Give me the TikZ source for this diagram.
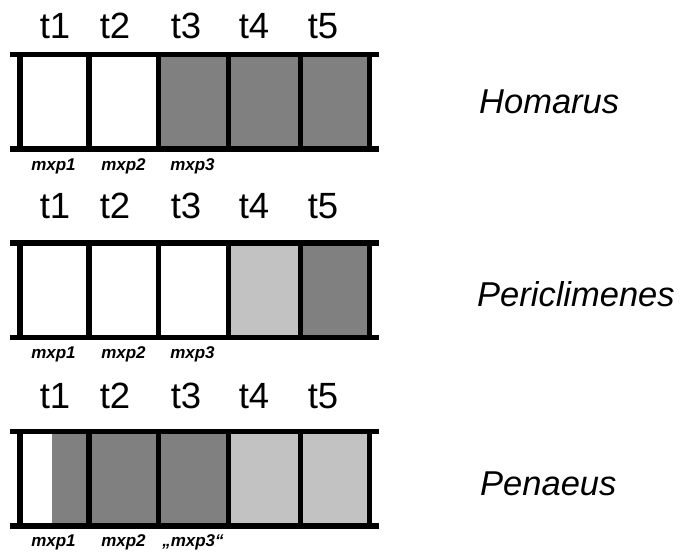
\documentclass[tikz,border=0pt]{standalone}
\usepackage{fontspec}
\setmainfont{Liberation Sans}
\definecolor{dk}{gray}{0.5}
\definecolor{lt}{gray}{0.76}
\begin{document}
\begin{tikzpicture}[x=1pt,y=-1pt,
  bar/.style={line width=5.8pt},
  tlab/.style={anchor=base,font=\fontsize{36.5}{40}\selectfont,inner sep=0pt},
  mlab/.style={anchor=base,font=\fontsize{17}{19}\bfseries\itshape\selectfont,inner sep=0pt},
  sp/.style={anchor=base west,font=\fontsize{34.5}{40}\itshape\selectfont,inner sep=0pt}]
\useasboundingbox[fill=white] (0,0) rectangle (681,555);
% fills
\fill[dk] (158.5,54.5) rectangle (369.5,149);
\fill[lt] (228.5,243) rectangle (300.5,337.5);
\fill[dk] (300.5,243) rectangle (369.5,337.5);
\fill[dk] (52,431.5) rectangle (228.5,526);
\fill[lt] (228.5,431.5) rectangle (369.5,526);
% frames
\foreach \T/\B in {54.5/149, 243/337.5, 431.5/526}{
  \foreach \x in {20,89,158.5,228.5,300.5,369.5}
    \draw[bar] (\x,\T) -- (\x,\B);
  \draw[bar] (10,\T) -- (379,\T);
  \draw[bar] (10,\B) -- (379,\B);
}
% t labels
\foreach \r/\y in {a/38, b/218, c/408}{
  \foreach \i/\x in {1/55, 2/115, 3/186, 4/254, 5/323}
    \node[tlab] (t\r\i) at (\x,\y) {t\i};
}
% mxp labels
\foreach \r/\y in {a/170, b/358.5, c/546.5}{
  \node[mlab] (m\r1) at (53.5,\y) {mxp1};
  \node[mlab] (m\r2) at (123.5,\y) {mxp2};
}
\node[mlab] (ma3) at (192.5,170) {mxp3};
\node[mlab] (mb3) at (192.5,358.5) {mxp3};
\node[mlab] (mc3) at (193,546.5) {„mxp3“};
% species
\node[sp] (homarus) at (479,113) {Homarus};
\node[sp] (periclimenes) at (477,306) {Periclimenes};
\node[sp] (penaeus) at (480,495) {Penaeus};
\end{tikzpicture}
\end{document}
